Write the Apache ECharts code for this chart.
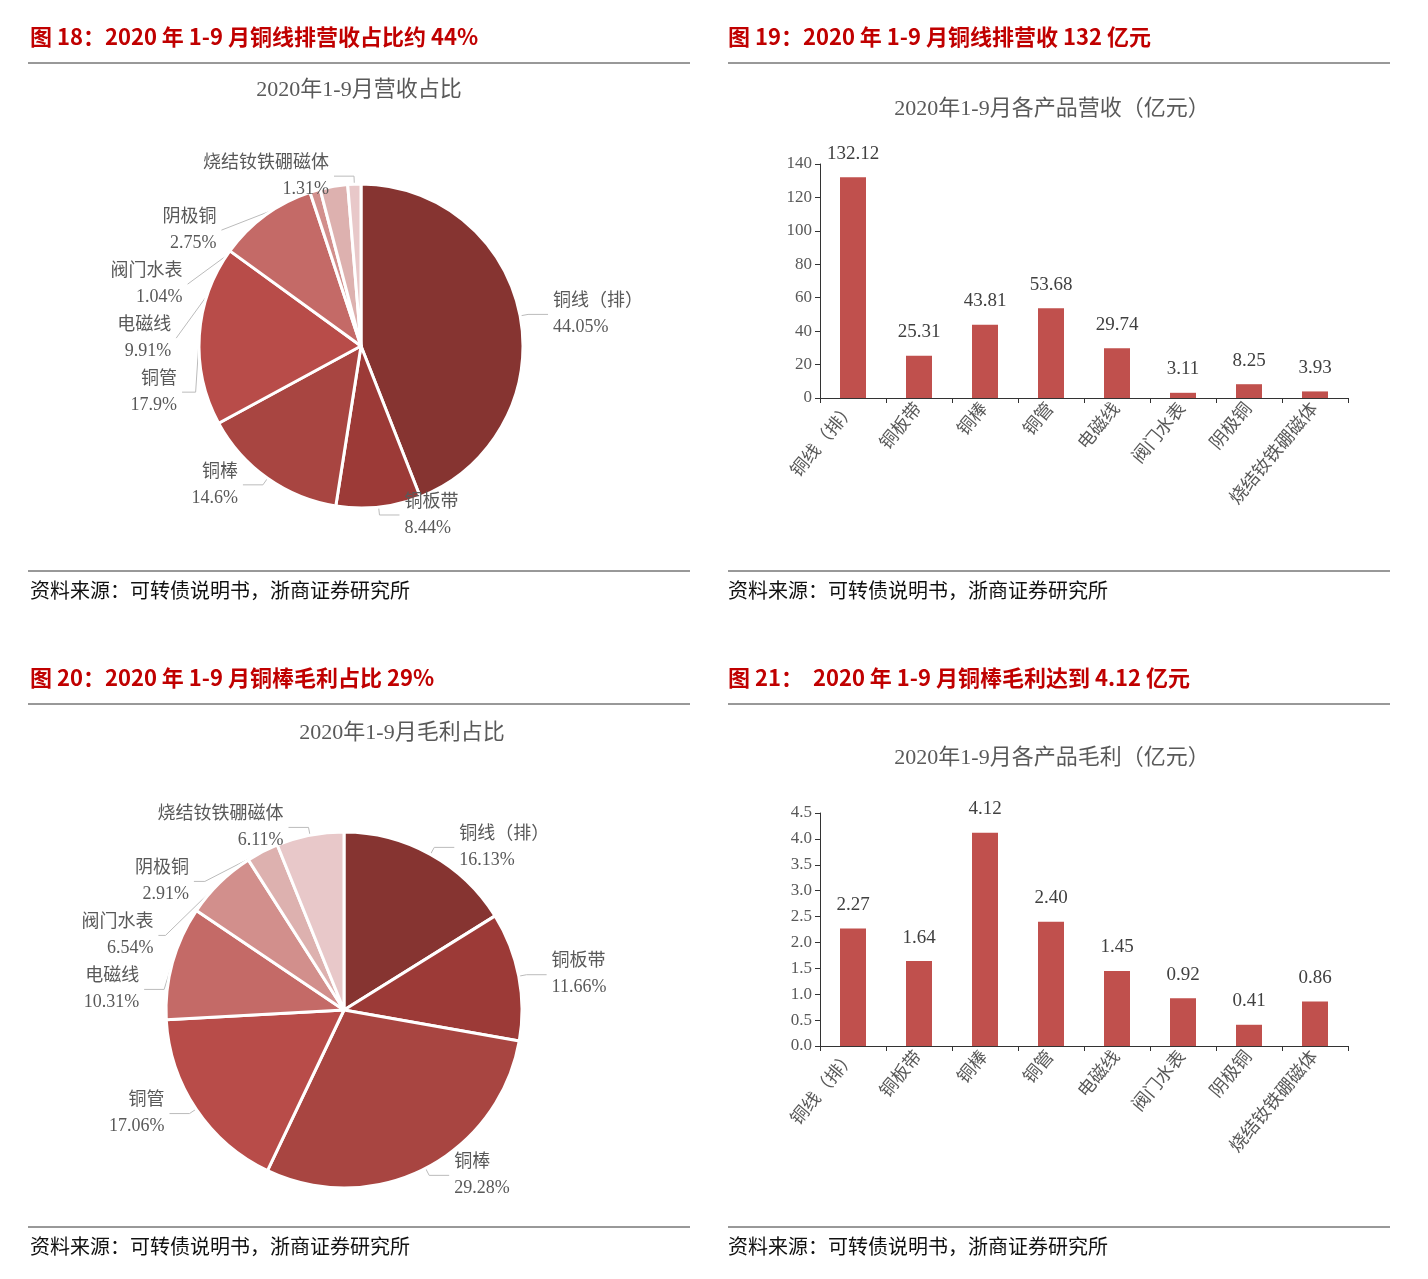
<!DOCTYPE html><html><head><meta charset="utf-8"><script src="https://cdn.jsdelivr.net/npm/echarts@6/dist/echarts.min.js"></script>
<style>body{margin:0;background:#fff}#c{width:1428px;height:1279px}</style></head><body><div id="c"></div><script>
const categories=['铜线（排）','铜板带','铜棒','铜管','电磁线','阀门水表','阴极铜','烧结钕铁硼磁体'];
const revenue=[132.12,25.31,43.81,53.68,29.74,3.11,8.25,3.93];
const profit=[2.27,1.64,4.12,2.40,1.45,0.92,0.41,0.86];
const pieOrder1=[0,1,2,3,4,5,6,7];
const sliceColors=['#863431','#9c3a37','#a84541','#b84c49','#c46a67','#d28f8c','#ddb1af','#e8c8c9'];
const serif='"Liberation Serif","Noto Sans CJK SC",serif';
const sans='"Noto Sans CJK SC",sans-serif';
const ch=echarts.init(document.getElementById('c'));
function pieData(vals){return categories.map((n,i)=>({name:n,value:vals[i],itemStyle:{color:sliceColors[i]}}));}
const red='#c00000';
function hdr(t,x,y){return {type:'text',left:x,top:y,style:{text:t,font:'bold 22px '+sans,fill:red}};}
function line(x1,x2,y){return {type:'line',shape:{x1:x1,y1:y,x2:x2,y2:y},style:{stroke:'#333',lineWidth:1}};}
function src(x,y){return {type:'text',left:x,top:y,style:{text:'资料来源：可转债说明书，浙商证券研究所',font:'20px '+sans,fill:'#111'}};}
function ctitle(t,cx,y){return {type:'text',x:cx,y:y,style:{text:t,font:'22px '+serif,fill:'#595959',align:'center'}};}
const xAx=(gi)=>({type:'category',gridIndex:gi,data:categories,axisTick:{show:true,alignWithLabel:false,lineStyle:{color:'#333'}},axisLine:{lineStyle:{color:'#333'}},axisLabel:{rotate:50,interval:0,color:'#595959',fontSize:18,fontFamily:serif}});
const yAx=(gi,max,iv,dec)=>({type:'value',gridIndex:gi,min:0,max:max,interval:iv,splitLine:{show:false},axisLine:{show:true,lineStyle:{color:'#333'}},axisTick:{show:true,lineStyle:{color:'#333'}},axisLabel:{color:'#595959',fontSize:17,fontFamily:serif,formatter:v=>dec?v.toFixed(1):v}});
const pieLabel={show:true,position:'outside',formatter:'{b}\n{d}%',color:'#595959',fontSize:18,fontFamily:serif,lineHeight:26,align:'center'};
ch.setOption({animation:false,
graphic:[hdr('图 18：2020 年 1-9 月铜线排营收占比约 44%',30,26),line(28,690,63),hdr('图 19：2020 年 1-9 月铜线排营收 132 亿元',728,26),line(728,1390,63),
hdr('图 20：2020 年 1-9 月铜棒毛利占比 29%',30,667),line(28,690,704),hdr('图 21：  2020 年 1-9 月铜棒毛利达到 4.12 亿元',728,667),line(728,1390,704),
line(28,690,571),src(30,580),line(728,1390,571),src(728,580),line(28,690,1227),src(30,1236),line(728,1390,1227),src(728,1236),
ctitle('2020年1-9月营收占比',359,79),ctitle('2020年1-9月各产品营收（亿元）',1052,98),ctitle('2020年1-9月毛利占比',402,722),ctitle('2020年1-9月各产品毛利（亿元）',1052,747)],
grid:[{left:820,width:528,top:164,height:234},{left:820,width:528,top:813,height:233}],
xAxis:[xAx(0),xAx(1)],yAxis:[yAx(0,140,20,false),yAx(1,4.5,0.5,true)],
series:[
{type:'pie',center:[361,346],radius:162,startAngle:90,clockwise:true,data:pieData(revenue),itemStyle:{borderColor:'#fff',borderWidth:3},label:pieLabel,labelLine:{length:8,length2:20,lineStyle:{color:'#bbb'}}},
{type:'pie',center:[344,1010],radius:178,startAngle:90,clockwise:true,data:pieData(profit),itemStyle:{borderColor:'#fff',borderWidth:3},label:pieLabel,labelLine:{length:8,length2:20,lineStyle:{color:'#bbb'}}},
{type:'bar',xAxisIndex:0,yAxisIndex:0,data:revenue,barWidth:26,itemStyle:{color:'#c0504d'},label:{show:true,position:'top',distance:14,color:'#404040',fontSize:19,fontFamily:serif,formatter:p=>p.value.toFixed(2)}},
{type:'bar',xAxisIndex:1,yAxisIndex:1,data:profit,barWidth:26,itemStyle:{color:'#c0504d'},label:{show:true,position:'top',distance:14,color:'#404040',fontSize:19,fontFamily:serif,formatter:p=>p.value.toFixed(2)}}
]});
</script></body></html>
